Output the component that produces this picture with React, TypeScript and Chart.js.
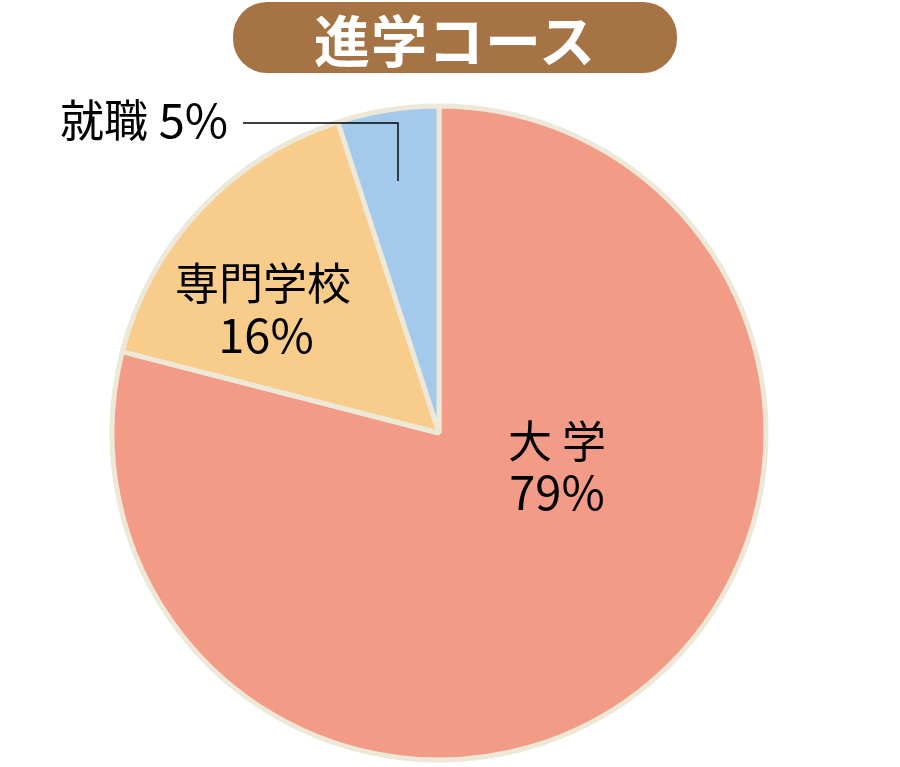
import React, { useEffect, useRef } from "react";
import { Chart, registerables } from "chart.js";

Chart.register(...registerables);

const TITLE = "進学コース";
const categories = ["大学", "専門学校", "就職"];
const values = [79, 16, 5];
const colors = ["#f29b87", "#f8cc8a", "#a3caeb"];
const borderColor = "#ede8d8";

const FONT = '"Noto Sans CJK JP", "Noto Sans", sans-serif';

const labelPlugin = {
  id: "sliceLabels",
  afterDatasetsDraw(chart: any) {
    const meta = chart.getDatasetMeta(0);
    const arc = meta.data[0];
    if (!arc) return;
    const cx = arc.x;
    const cy = arc.y;
    const ctx = chart.ctx;
    ctx.save();
    ctx.fillStyle = "#000";
    ctx.textBaseline = "middle";
    ctx.textAlign = "center";
    ctx.font = `44px ${FONT}`;
    // 大学
    ctx.fillText("大 学", cx + 118, cy + 8);
    ctx.fillText(categories[1], cx - 176, cy - 150);
    ctx.font = `47px ${FONT}`;
    ctx.fillText(`${values[0]}%`, cx + 118, cy + 59);
    ctx.fillText(`${values[1]}%`, cx - 173, cy - 98);
    // 就職
    ctx.textAlign = "right";
    ctx.fillText(`${values[2]}%`, cx - 211, cy - 313);
    ctx.font = `44px ${FONT}`;
    ctx.fillText(categories[2], cx - 291, cy - 313);
    ctx.strokeStyle = "#000";
    ctx.lineWidth = 1.4;
    ctx.beginPath();
    ctx.moveTo(cx - 196, cy - 310);
    ctx.lineTo(cx - 41, cy - 310);
    ctx.lineTo(cx - 41, cy - 252);
    ctx.stroke();
    ctx.restore();
  },
};

export default function App() {
  const ref = useRef<HTMLCanvasElement>(null);
  useEffect(() => {
    const canvas = ref.current;
    if (!canvas) return;
    const chart = new Chart(canvas, {
      type: "pie",
      data: {
        labels: categories,
        datasets: [
          {
            data: values,
            backgroundColor: colors,
            borderColor: borderColor,
            borderWidth: 5,
          },
        ],
      },
      options: {
        responsive: false,
        animation: false,
        radius: 327,
        layout: { padding: { left: 105, right: 127, top: 99, bottom: 0 } },
        plugins: {
          legend: { display: false },
          tooltip: { enabled: false },
          title: { display: false },
        },
      },
      plugins: [labelPlugin],
    });
    return () => chart.destroy();
  }, []);

  return (
    <div style={{ position: "fixed", left: 0, top: 0, width: 900, height: 767, background: "#fff" }}>
      <canvas ref={ref} width={900} height={767} style={{ position: "absolute", left: 0, top: 0 }} />
      <div
        style={{
          position: "absolute",
          left: 233,
          top: 2,
          width: 444,
          height: 71,
          borderRadius: 34,
          background: "#a67444",
          color: "#fff",
          fontFamily: FONT,
          fontWeight: 700,
          fontSize: 56,
          lineHeight: "71px",
          textAlign: "center",
          letterSpacing: 1,
        }}
      >
        {TITLE}
      </div>
    </div>
  );
}
